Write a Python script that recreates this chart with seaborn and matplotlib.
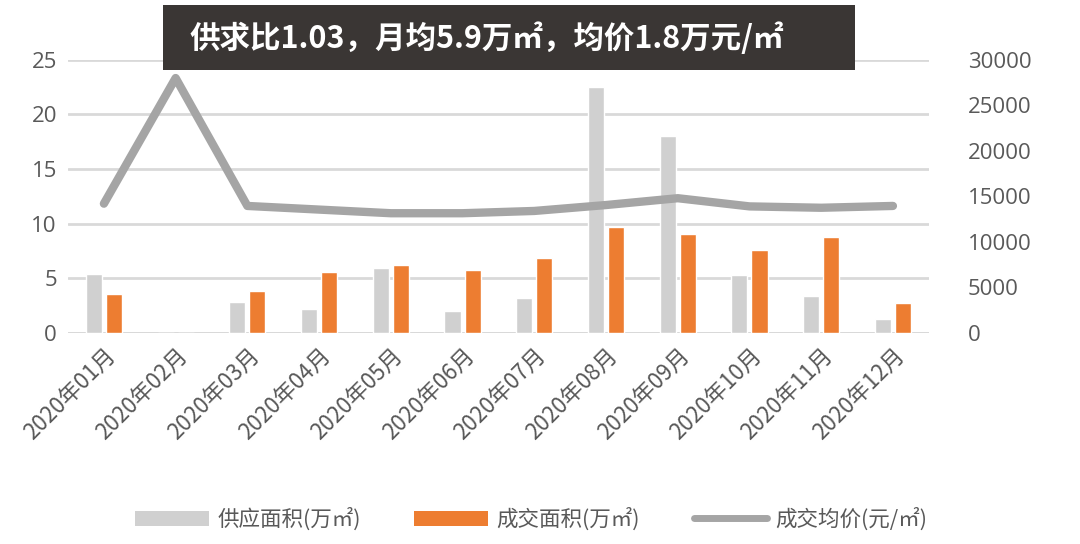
import numpy as np
import pandas as pd
import matplotlib
matplotlib.use("Agg")
import matplotlib.pyplot as plt
import seaborn as sns
from matplotlib.patches import Patch, Rectangle
from matplotlib.lines import Line2D

months = ["2020年01月", "2020年02月", "2020年03月", "2020年04月", "2020年05月", "2020年06月",
          "2020年07月", "2020年08月", "2020年09月", "2020年10月", "2020年11月", "2020年12月"]
supply = [5.4, 0, 2.8, 2.2, 5.9, 2.0, 3.2, 22.5, 18.0, 5.3, 3.4, 1.3]
deal = [3.6, 0, 3.8, 5.6, 6.2, 5.8, 6.9, 9.7, 9.1, 7.6, 8.8, 2.7]
price = [14200, 28000, 13950, 13550, 13150, 13150, 13400, 14050, 14800, 13900, 13750, 13950]
left_ticks = [0, 5, 10, 15, 20, 25]
right_ticks = [0, 5000, 10000, 15000, 20000, 25000, 30000]
series_names = ["供应面积(万㎡)", "成交面积(万㎡)", "成交均价(元/㎡)"]
banner = "供求比1.03，月均5.9万㎡，均价1.8万元/㎡"

sns.set_theme(style="white")
plt.rcParams['font.family'] = ['Noto Sans CJK SC', 'DejaVu Sans']

c_supply = "#d0d0d0"
c_deal = "#ed7d31"
c_line = "#a5a5a5"
c_text = "#595959"
c_grid = "#d9d9d9"

df = pd.DataFrame({
    "month": months * 2,
    "value": supply + deal,
    "series": [series_names[0]] * 12 + [series_names[1]] * 12,
})

fig = plt.figure(figsize=(10.8, 5.44), dpi=100)
ax = fig.add_axes([0.063, 0.388, 0.797, 0.502])

sns.barplot(data=df, x="month", y="value", hue="series", order=months,
            hue_order=series_names[:2], palette=[c_supply, c_deal],
            width=0.56, gap=0.2, ax=ax, legend=False, saturation=1)

ax.set_ylim(0, 25)
ax.set_xlim(-0.5, 11.5)
ax.set_yticks(left_ticks)
ax.set_yticklabels([str(t) for t in left_ticks], fontsize=16, color=c_text,
                   family=['Open Sans', 'DejaVu Sans'])
ax.yaxis.grid(True, color=c_grid, linewidth=2)
ax.set_axisbelow(True)
for s in ax.spines.values():
    s.set_visible(False)
ax.axhline(0, color=c_grid, linewidth=2, zorder=0)
ax.set_xlabel("")
ax.set_ylabel("")
ax.set_xticks(range(12))
ax.set_xticklabels(months, rotation=45, ha="right", rotation_mode="anchor",
                   fontsize=16, color=c_text)
ax.tick_params(axis="both", length=0, pad=8)

ax2 = ax.twinx()
sns.lineplot(x=np.arange(12), y=price, ax=ax2, color=c_line, linewidth=6,
             solid_capstyle="round", solid_joinstyle="round", zorder=5)
ax2.set_ylim(0, 30000)
ax2.set_yticks(right_ticks)
ax2.set_yticklabels([str(t) for t in right_ticks], fontsize=16, color=c_text,
                    family=['Open Sans', 'DejaVu Sans'])
ax2.tick_params(axis="y", length=0, pad=28)
for s in ax2.spines.values():
    s.set_visible(False)
ax2.set_ylabel("")

# banner
fig.patches.append(Rectangle((163 / 1080, 1 - 70 / 544), (855 - 163) / 1080, 65 / 544,
                             transform=fig.transFigure, facecolor="#3a3634",
                             edgecolor="none", zorder=10))
fig.text(190 / 1080, 1 - 39 / 544, banner, color="white", fontsize=22, fontweight="bold",
         va="center", ha="left", zorder=11)

handles = [Patch(facecolor=c_supply, edgecolor="none"),
           Patch(facecolor=c_deal, edgecolor="none"),
           Line2D([0], [0], color=c_line, linewidth=5, solid_capstyle="round")]
leg = fig.legend(handles, series_names, loc="center", bbox_to_anchor=(0.492, 1 - 519 / 544),
                 ncol=3, frameon=False, fontsize=15.5, handlelength=3.4, handleheight=0.7,
                 columnspacing=2.5, handletextpad=0.4)
for t in leg.get_texts():
    t.set_color(c_text)

fig.savefig("out.png", dpi=100)
